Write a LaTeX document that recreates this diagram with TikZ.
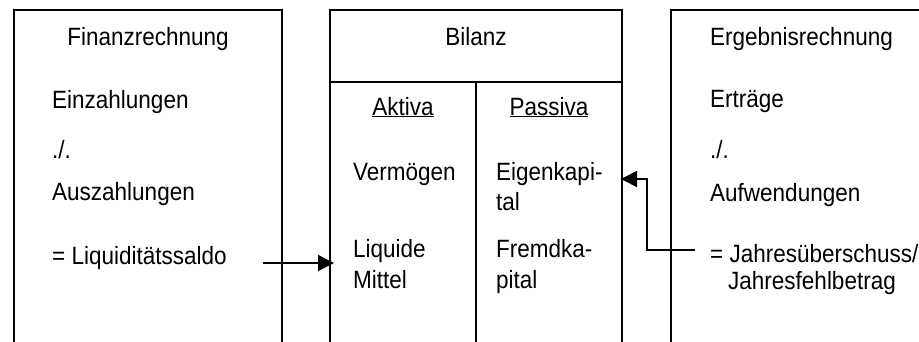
\documentclass[tikz,border=0pt]{standalone}
\usepackage{fontspec}
\setmainfont[FakeStretch=0.9]{Liberation Sans}
\usetikzlibrary{arrows.meta}
\tikzset{
  frame/.style={line width=1.7pt},
  txt/.style={inner sep=0pt, anchor=base west, font=\fontsize{25}{30}\selectfont},
  ctxt/.style={inner sep=0pt, anchor=base, font=\fontsize{25}{30}\selectfont},
  link/.style={line width=1.7pt, -{Triangle[length=16pt,width=16pt]}}
}
\begin{document}
\begin{tikzpicture}[x=1pt,y=-1pt]
\useasboundingbox (0,0) rectangle (919,341);
% boxes (open at bottom)
\draw[frame] (14,342) -- (14,10) -- (282,10) -- (282,342);
\draw[frame] (330,342) -- (330,10) -- (622,10) -- (622,342);
\draw[frame] (330,82) -- (622,82);
\draw[frame] (476,82) -- (476,342);
\draw[frame] (671,342) -- (671,10) -- (920,10);
% left texts
\node[ctxt] (fin) at (148,45) {Finanzrechnung};
\node[txt] (ein) at (52,108) {Einzahlungen};
\node[txt] (minus1) at (52,158) {./.};
\node[txt] (aus) at (52,200) {Auszahlungen};
\node[txt] (liq) at (52,264) {= Liquiditätssaldo};
% middle texts
\node[ctxt] (bil) at (476,45) {Bilanz};
\node[ctxt] (akt) at (403,115) {\underline{Aktiva}};
\node[ctxt] (pas) at (549,115) {\underline{Passiva}};
\node[txt] (verm) at (353,180) {Vermögen};
\node[txt] (ek1) at (496,180) {Eigenkapi-};
\node[txt] (ek2) at (496,210) {tal};
\node[txt] (lm1) at (353,257) {Liquide};
\node[txt] (lm2) at (353,288) {Mittel};
\node[txt] (fk1) at (496,257) {Fremdka-};
\node[txt] (fk2) at (496,288) {pital};
% right texts
\node[txt] (erg) at (710,45) {Ergebnisrechnung};
\node[txt] (ertr) at (710,107) {Erträge};
\node[txt] (minus2) at (710,158) {./.};
\node[txt] (aufw) at (710,201) {Aufwendungen};
\node[txt] (jue) at (710,262) {= Jahresüberschuss/};
\node[txt] (jfb) at (728,289) {Jahresfehlbetrag};
% connectors
\coordinate (a1s) at (263,263);
\coordinate (a1e) at (334,263);
\draw[link] (a1s) -- (a1e);
\coordinate (a2s) at (695,250);
\coordinate (a2m) at (647,179);
\coordinate (a2e) at (621,179);
\draw[link] (a2s) -| (a2m) -- (a2e);
\end{tikzpicture}
\end{document}
